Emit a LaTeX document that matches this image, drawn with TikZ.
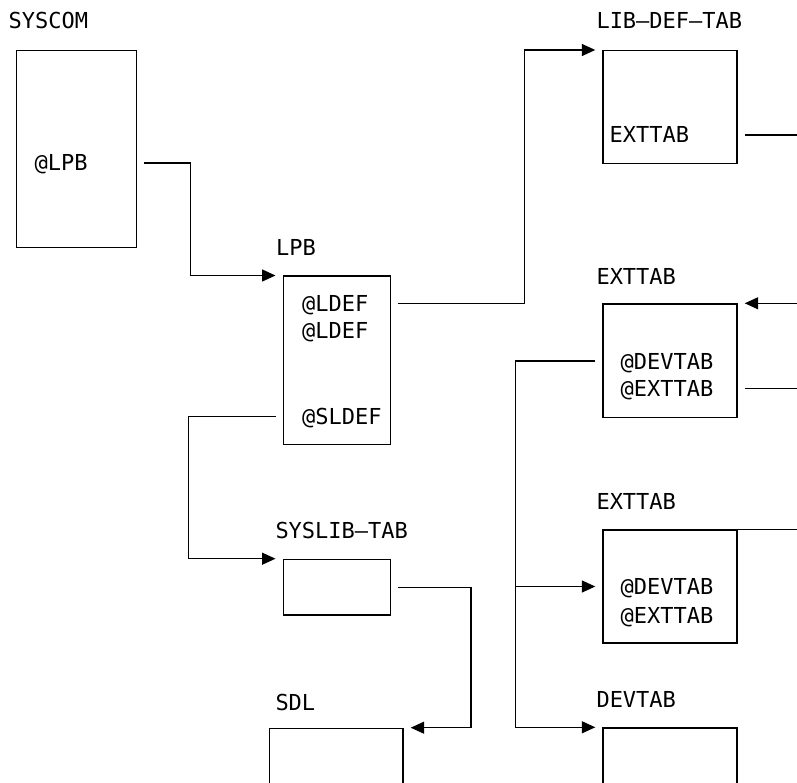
\documentclass[tikz,border=0pt]{standalone}
\usepackage{fontspec}
\setmonofont{DejaVu Sans Mono}
\usetikzlibrary{arrows.meta,calc}
\begin{document}
\begin{tikzpicture}[x=1pt,y=-1pt,
  box/.style={draw,line width=1.4pt,rectangle,anchor=north west,inner sep=0pt},
  txt/.style={anchor=west,inner sep=0pt,text height=16pt,text depth=0pt,font=\ttfamily\fontsize{22}{26}\selectfont},
  conn/.style={line width=1.4pt},
  arr/.style={conn,-{Triangle[length=13.5pt,width=12pt]}}]
\clip (0,0) rectangle (797,783);
% boxes
\node[box,minimum width=120pt,minimum height=197pt] (syscom) at (16,50) {};
\node[box,minimum width=107pt,minimum height=168.5pt] (lpb) at (282.5,275.5) {};
\node[box,minimum width=107pt,minimum height=55.6pt] (syslib) at (282.5,558.7) {};
\node[box,minimum width=133.3pt,minimum height=100pt] (sdl) at (269,727.7) {};
\node[box,minimum width=134pt,minimum height=112.7pt] (libdef) at (602.3,50) {};
\node[box,minimum width=134pt,minimum height=113.3pt] (ext2) at (602.3,303.3) {};
\node[box,minimum width=134pt,minimum height=113pt] (ext3) at (602.3,529.3) {};
\node[box,minimum width=134pt,minimum height=100pt] (devtab) at (602.3,727.3) {};
% labels
\node[txt] (lsyscom) at (8.5,21) {SYSCOM};
\node[txt] (llpb) at (276,248) {LPB};
\node[txt] (llibdef) at (596.3,21) {LIB—DEF—TAB};
\node[txt] (lext2) at (596.3,276.7) {EXTTAB};
\node[txt] (lext3) at (596.3,501.8) {EXTTAB};
\node[txt] (ldevtab) at (596.3,699) {DEVTAB};
\node[txt] (lsyslib) at (275.3,530.3) {SYSLIB—TAB};
\node[txt] (lsdl) at (275.3,702) {SDL};
% inner texts
\node[txt] (tlpb) at (34.5,163) {@LPB};
\node[txt] (tldefa) at (302,303.3) {@LDEF};
\node[txt] (tldefb) at (302,330.7) {@LDEF};
\node[txt] (tsldef) at (302,416.7) {@SLDEF};
\node[txt] (tlibext) at (609.5,135) {EXTTAB};
\node[txt] (tdeva) at (620.5,361) {@DEVTAB};
\node[txt] (texta) at (620.5,388.3) {@EXTTAB};
\node[txt] (tdevb) at (620.5,586.7) {@DEVTAB};
\node[txt] (textb) at (620.5,615) {@EXTTAB};
% connectors
\draw[arr] ($(syscom.east |- tlpb)+(7,0)$) -- ++(46,0) |- ($(lpb.north west)+(-7,0)$);
\draw[arr] ($(lpb.east |- tldefa)+(7,0)$) -- ++(126.7,0) |- ($(libdef.north west)+(-7,0)$);
\draw[arr] ($(lpb.west |- tsldef)+(-7,0)$) -- ++(-87,0) |- ($(syslib.north west)+(-7,0)$);
\draw[arr] ($(syslib.east)+(7,0)$) -- ++(73,0) |- ($(sdl.north east)+(7,0)$);
\draw[conn] ($(libdef.east |- tlibext)+(7,0)$) -- ++(70,0);
\coordinate (redge) at (805,0);
\draw[arr] (ext2.north east -| redge) -- ($(ext2.north east)+(7,0)$);
\draw[conn] ($(ext2.east |- texta)+(7,0)$) -- ++(70,0);
\draw[conn] (ext3.north east) -- (ext3.north east -| redge);
\draw[arr] ($(ext2.west |- tdeva)+(-7,0)$) -- ++(-79.6,0) coordinate (trunk) |- ($(devtab.north west)+(-7,0)$);
\draw[arr] (trunk |- ext3.west) -- ($(ext3.west)+(-7,0)$);
\end{tikzpicture}
\end{document}
